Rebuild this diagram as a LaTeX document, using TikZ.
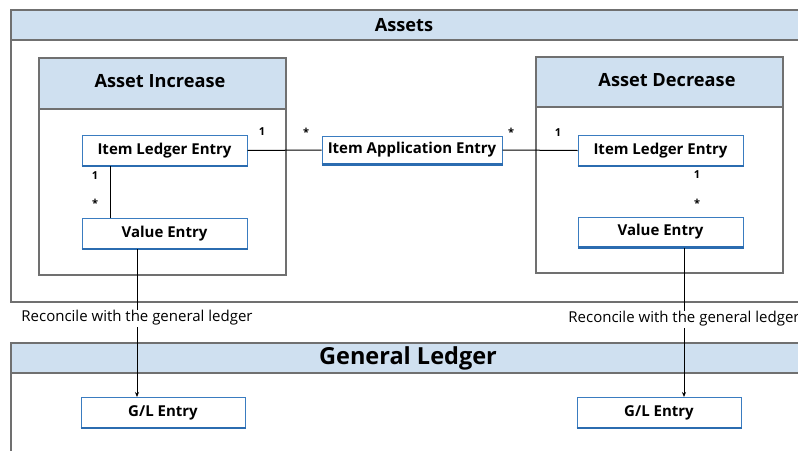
\documentclass[tikz,border=0pt]{standalone}
\usepackage{fontspec}
\setmainfont{Open Sans}
\usetikzlibrary{arrows.meta}
\definecolor{hdr}{HTML}{CFE0F0}
\definecolor{frame}{HTML}{707070}
\definecolor{entryblue}{HTML}{3A7CC0}
\definecolor{entrydark}{HTML}{2B6CB0}
\tikzset{
  px/.style={x=1pt,y=-1pt},
  panel/.style={draw=frame,line width=1.2pt},
  header/.style={draw=frame,line width=1.2pt,fill=hdr},
  entrybox/.style={draw=entryblue,line width=1pt,fill=white,minimum width=165pt,minimum height=30pt,inner sep=0pt,font=\fontsize{15}{17}\selectfont\bfseries},
  bottomline/.style={draw=entrydark,line width=2.6pt},
  conn/.style={draw=black,line width=1pt},
  mult/.style={font=\fontsize{11}{13}\selectfont\bfseries,inner sep=0pt},
  recon/.style={font=\fontsize{15}{17}\selectfont,fill=white,inner sep=1pt},
  title/.style={font=\fontsize{18.2}{21}\selectfont\bfseries,inner sep=0pt},
}
\begin{document}
\begin{tikzpicture}[px]
\useasboundingbox (0,0) rectangle (798,450);
\clip (0,0) rectangle (798,450);
\fill[white] (0,0) rectangle (798,450);
% Assets panel
\draw[panel] (11,10) rectangle (810,302);
\draw[header] (11,10) rectangle (810,40);
\node[title] (assets) at (404,25) {Assets};
% Asset Increase
\draw[panel] (39,58) rectangle (286,275);
\draw[header] (39,58) rectangle (286,109);
\node[title] (inc) at (160,81) {Asset Increase};
% Asset Decrease
\draw[panel] (536,57) rectangle (783,273);
\draw[header] (536,57) rectangle (783,107);
\node[title] (dec) at (667,80) {Asset Decrease};
% General Ledger panel
\draw[panel] (11,343) rectangle (810,470);
\draw[header] (11,343) rectangle (810,373);
\node[title,font=\fontsize{23.5}{27}\selectfont\bfseries] (gl) at (408,358) {General Ledger};
% entries
\node[entrybox,minimum width=165pt] (ileL) at (164.5,150.5) {Item Ledger Entry};
\node[entrybox,minimum width=180pt,minimum height=28pt] (iae) at (412,150) {Item Application Entry};
\node[entrybox] (ileR) at (660.5,150.5) {Item Ledger Entry};
\node[entrybox] (veL) at (164.5,233.5) {Value Entry};
\node[entrybox] (veR) at (660.5,232) {Value Entry};
\node[entrybox,minimum width=164pt] (glL) at (163,412.5) {G/L Entry};
\node[entrybox,minimum width=164pt] (glR) at (659,412.5) {G/L Entry};
\foreach \n in {ileL,iae,ileR,veL,veR,glL,glR}{
  \draw[bottomline] (\n.south west) -- (\n.south east);
}
% connectors
\coordinate (ilejoin) at (110,0);
\draw[conn] (ileL.south -| ilejoin) -- (veL.north -| ilejoin);
\draw[conn] (ileL.east) -- (iae.west);
\draw[conn] (iae.east) -- (ileR.west);
\coordinate (vlx) at (137,0);
\coordinate (vrx) at (684,0);
\draw[conn,-{Stealth[length=5pt,width=4pt]}] (veL.south -| vlx) -- (glL.north -| vlx);
\draw[conn,-{Stealth[length=5pt,width=4pt]}] (veR.south -| vrx) -- (glR.north -| vrx);
\node[recon] (rl) at (137,318) {Reconcile with the general ledger};
\node[recon] (rr) at (684,319) {Reconcile with the general ledger};
% multiplicities
\node[mult] (m1) at (95,176) {1};
\node[mult] (m2) at (95,203) {*};
\node[mult] (m3) at (262,132) {1};
\node[mult] (m4) at (306,132) {*};
\node[mult] (m5) at (511,132) {*};
\node[mult] (m6) at (558,133) {1};
\node[mult] (m7) at (697,175) {1};
\node[mult] (m8) at (697,203) {*};
\end{tikzpicture}
\end{document}
